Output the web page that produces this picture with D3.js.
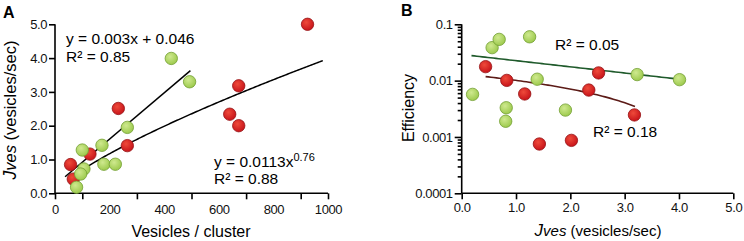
<!DOCTYPE html>
<html>
<head>
<meta charset="utf-8">
<script src="https://cdn.jsdelivr.net/npm/d3@7"></script>
<style>
  body { margin: 0; background: #fff; }
  svg { font-family: "Liberation Sans", Arial, sans-serif; }
  .tick text { font-size: 13px; letter-spacing: -0.4px; fill: #111; }
  .domain, .tick line { stroke: #000; stroke-width: 1.6px; }
</style>
</head>
<body>
<div id="chart"></div>
<script>
// panel A: vesicles per cluster vs Jves
const aRedX = [925, 673, 640, 673, 232, 265, 128, 57, 67];
const aRedY = [5.0, 3.18, 2.34, 2.0, 2.51, 1.41, 1.16, 0.85, 0.42];
const aGreenX = [426, 493, 265, 172, 100, 179, 221, 106, 94, 79];
const aGreenY = [3.99, 3.30, 1.95, 1.42, 1.28, 0.86, 0.86, 0.72, 0.57, 0.18];
const aXLabels = [0, 200, 400, 600, 800, 1000];
const aXTicks = [0, 100, 300, 500, 700, 900, 1000];
const aYTicks = [0, 1, 2, 3, 4, 5];
// fitted lines as drawn: linear (green only) and power (all points)
const aLinFitX = [37, 496];
const aLinFitY = [0.49, 3.63];
const aPowFit = { a: 0.0209, b: 0.76, from: 57, to: 984 }; // y = a*x^b

// panel B: Jves vs efficiency
const bGreenX = [0.20, 0.56, 0.69, 1.25, 1.39, 0.82, 0.81, 1.91, 3.23, 4.01];
const bGreenY = [0.0057, 0.0385, 0.054, 0.060, 0.0106, 0.0033, 0.0019, 0.0030, 0.0128, 0.0104];
const bRedX = [0.44, 0.83, 1.16, 1.43, 2.02, 2.34, 2.52, 3.18];
const bRedY = [0.0177, 0.0101, 0.0058, 0.00075, 0.00087, 0.0068, 0.0137, 0.00246];
const bXTicks = [0, 1, 2, 3, 4, 5];
const bYTicks = [0.0001, 0.001, 0.01, 0.1];
const bYLabels = ['0.0001', '0.001', '0.01', '0.1'];
const bGreenFit = { a: 0.0291, k: -0.1094, from: 0.18, to: 4.02 };   // y = a*10^(k x)
const bRedFit = { c: 0.01313, m: -0.003025, from: 0.44, to: 3.20 }; // y = c + m x

const W = 744, H = 241;
const svg = d3.select('#chart').append('svg').attr('width', W).attr('height', H);

const defs = svg.append('defs');
function grad(id, c0, c1) {
    const g = defs.append('radialGradient').attr('id', id)
        .attr('cx', '40%').attr('cy', '35%').attr('r', '65%');
    g.append('stop').attr('offset', '0%').attr('stop-color', c0);
    g.append('stop').attr('offset', '100%').attr('stop-color', c1);
}
grad('gRed', '#ee4a3a', '#c8141a');
grad('gGreen', '#cfe98f', '#9dca4d');
const redStyle = { fill: 'url(#gRed)', stroke: '#951417' };
const greenStyle = { fill: 'url(#gGreen)', stroke: '#73a033' };

function dots(g, xs, ys, x, y, st) {
    g.selectAll(null).data(xs.map((v, i) => [v, ys[i]])).enter()
        .append('circle')
        .attr('cx', d => x(d[0])).attr('cy', d => y(d[1])).attr('r', 6.2)
        .attr('fill', st.fill).attr('stroke', st.stroke).attr('stroke-width', 0.8);
}

// ---------- Panel A ----------
const ax = d3.scaleLinear().domain([0, 1000]).range([55, 328]);
const ay = d3.scaleLinear().domain([0, 5]).range([193.3, 24.3]);
const A = svg.append('g');

A.append('g').attr('transform', 'translate(0,193.3)')
    .call(d3.axisBottom(ax).tickValues(aXTicks).tickSize(6).tickFormat(''))
    .call(g => g.select('.domain').attr('d', `M${ax(0)},0H${ax(1000)}`));
A.append('g').attr('transform', 'translate(0,193.3)')
    .call(d3.axisBottom(ax).tickValues(aXLabels).tickSize(0).tickPadding(11).tickFormat(d3.format('d')))
    .call(g => g.select('.domain').remove());
A.append('g').attr('transform', 'translate(55,0)')
    .call(d3.axisLeft(ay).tickValues(aYTicks).tickSize(6).tickPadding(2).tickFormat(d3.format('.1f')))
    .call(g => g.select('.domain').attr('d', `M0,${ay(0)}V${ay(5)}`));

const fitLine = d3.line().x(d => ax(d[0])).y(d => ay(d[1]));
A.append('path')
    .attr('d', fitLine(aLinFitX.map((v, i) => [v, aLinFitY[i]])))
    .attr('stroke', '#000').attr('stroke-width', 1.5).attr('fill', 'none');
const powPts = d3.range(aPowFit.from, aPowFit.to + 1, 6).map(v => [v, aPowFit.a * Math.pow(v, aPowFit.b)]);
A.append('path')
    .attr('d', fitLine(powPts))
    .attr('stroke', '#000').attr('stroke-width', 1.5).attr('fill', 'none');

dots(A, aRedX, aRedY, ax, ay, redStyle);
dots(A, aGreenX, aGreenY, ax, ay, greenStyle);

A.append('text').attr('x', 3).attr('y', 18).attr('font-weight', 'bold').attr('font-size', 16).text('A');
A.append('text').attr('x', 191).attr('y', 237).attr('text-anchor', 'middle').attr('font-size', 16)
    .text('Vesicles / cluster');
const aYT = A.append('text').attr('transform', 'translate(16,110) rotate(-90)')
    .attr('text-anchor', 'middle').attr('font-size', 16.5);
aYT.append('tspan').attr('font-style', 'italic').attr('font-size', 17.5).text('J');
aYT.append('tspan').attr('font-style', 'italic').attr('font-size', 16.5).text('ves');
aYT.append('tspan').text(' (vesicles/sec)');

A.append('text').attr('x', 66).attr('y', 44).attr('font-size', 15.5).text('y = 0.003x + 0.046');
A.append('text').attr('x', 66).attr('y', 62).attr('font-size', 15.5).text('R² = 0.85');
const pw = A.append('text').attr('x', 214).attr('y', 167).attr('font-size', 15.5);
pw.append('tspan').text('y = 0.0113x');
pw.append('tspan').attr('font-size', 11).attr('dy', -6).text('0.76');
A.append('text').attr('x', 214).attr('y', 184).attr('font-size', 15.5).text('R² = 0.88');

// ---------- Panel B ----------
const bx = d3.scaleLinear().domain([0, 5]).range([461.7, 733.3]);
const by = d3.scaleLog().domain([0.0001, 0.1]).range([193.3, 24.3]);
const B = svg.append('g');

B.append('g').attr('transform', 'translate(0,193.3)')
    .call(d3.axisBottom(bx).tickValues(bXTicks).tickSize(6).tickPadding(3).tickFormat(d3.format('.1f')))
    .call(g => g.select('.domain').attr('d', `M${bx(0)},0H${bx(5)}`));

const minor = [];
bYTicks.slice(0, -1).forEach(d => { for (let k = 2; k <= 9; k++) minor.push(d * k); });
B.append('g').attr('transform', 'translate(461.7,0)')
    .call(d3.axisLeft(by).tickValues(minor).tickSize(4).tickFormat(''))
    .call(g => g.select('.domain').remove())
    .call(g => g.selectAll('.tick line').attr('stroke-width', 1.2));
B.append('g').attr('transform', 'translate(461.7,0)')
    .call(d3.axisLeft(by).tickValues(bYTicks).tickSize(7).tickPadding(2).tickFormat((d, i) => bYLabels[i]))
    .call(g => g.select('.domain').attr('d', `M0,${by(0.0001)}V${by(0.1)}`));

const gPts = d3.range(bGreenFit.from, bGreenFit.to + 0.001, 0.05).map(v => [v, bGreenFit.a * Math.pow(10, bGreenFit.k * v)]);
B.append('path')
    .attr('d', d3.line().x(d => bx(d[0])).y(d => by(d[1]))(gPts))
    .attr('stroke', '#1f5a2b').attr('stroke-width', 1.6).attr('fill', 'none');
const rPts = d3.range(bRedFit.from, bRedFit.to + 0.001, 0.05).map(v => [v, bRedFit.c + bRedFit.m * v]);
B.append('path')
    .attr('d', d3.line().x(d => bx(d[0])).y(d => by(d[1]))(rPts))
    .attr('stroke', '#5c1b17').attr('stroke-width', 1.6).attr('fill', 'none');

dots(B, bRedX, bRedY, bx, by, redStyle);
dots(B, bGreenX, bGreenY, bx, by, greenStyle);

B.append('text').attr('x', 401).attr('y', 16).attr('font-weight', 'bold').attr('font-size', 16).text('B');
B.append('text').attr('transform', 'translate(414,108) rotate(-90)')
    .attr('text-anchor', 'middle').attr('font-size', 16).text('Efficiency');
const bXT = B.append('text').attr('x', 598).attr('y', 236).attr('text-anchor', 'middle').attr('font-size', 15);
bXT.append('tspan').attr('font-style', 'italic').attr('font-size', 17).text('J');
bXT.append('tspan').attr('font-style', 'italic').attr('font-size', 15).text('ves');
bXT.append('tspan').text(' (vesicles/sec)');

B.append('text').attr('x', 555).attr('y', 50).attr('font-size', 15.5).text('R² = 0.05');
B.append('text').attr('x', 593).attr('y', 137).attr('font-size', 15.5).text('R² = 0.18');
</script>
</body>
</html>
